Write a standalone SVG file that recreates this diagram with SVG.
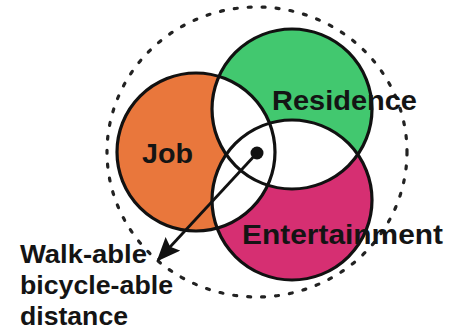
<svg xmlns="http://www.w3.org/2000/svg" width="449" height="331" viewBox="0 0 449 331">
<style>
.ring{fill:none;stroke:#111;stroke-width:3.2}
.lbl{font-family:"Liberation Sans",Arial,sans-serif;font-weight:bold;fill:#141414}
.big{font-size:28px}
.small{font-size:26px}
</style>
<defs>
<clipPath id="cJob"><circle cx="196" cy="152" r="79"/></clipPath>
<clipPath id="cRes"><circle cx="292" cy="109" r="80"/></clipPath>
<marker id="ah" viewBox="0 0 24 20" refX="22" refY="10" markerWidth="24" markerHeight="20" markerUnits="userSpaceOnUse" orient="auto">
<path d="M0,0 L24,10 L0,20 L4,10 z" fill="#111"/>
</marker>
</defs>
<rect width="449" height="331" fill="#fff"/>
<g id="boundary">
<ellipse cx="257" cy="152" rx="150" ry="145" fill="none" stroke="#222" stroke-width="3.2" stroke-dasharray="3 11" stroke-linecap="round"/>
</g>
<g id="fills">
<circle cx="196" cy="152" r="79" fill="#e9773c"/>
<circle cx="292" cy="109" r="80" fill="#42c86f"/>
<circle cx="292" cy="200" r="80" fill="#d62f72"/>
<circle cx="292" cy="109" r="80" fill="#fff" clip-path="url(#cJob)"/>
<circle cx="292" cy="200" r="80" fill="#fff" clip-path="url(#cJob)"/>
<circle cx="292" cy="200" r="80" fill="#fff" clip-path="url(#cRes)"/>
</g>
<g id="job">
<circle class="ring" cx="196" cy="152" r="79"/>
<text class="lbl big" x="142" y="163" textLength="51" lengthAdjust="spacingAndGlyphs">Job</text>
</g>
<g id="residence">
<circle class="ring" cx="292" cy="109" r="80"/>
<text class="lbl big" x="272" y="110" textLength="145" lengthAdjust="spacingAndGlyphs">Residence</text>
</g>
<g id="entertainment">
<circle class="ring" cx="292" cy="200" r="80"/>
<text class="lbl big" x="242" y="244" textLength="201" lengthAdjust="spacingAndGlyphs">Entertainment</text>
</g>
<g id="connectors">
<circle cx="257" cy="153" r="6.5" fill="#111"/>
<line x1="257" y1="153" x2="158" y2="260" stroke="#111" stroke-width="2.8" marker-end="url(#ah)"/>
</g>
<g id="distance-label">
<text class="lbl small" x="20" y="263" textLength="127" lengthAdjust="spacingAndGlyphs">Walk-able</text>
<text class="lbl small" x="20" y="294" textLength="153" lengthAdjust="spacingAndGlyphs">bicycle-able</text>
<text class="lbl small" x="20" y="325" textLength="108" lengthAdjust="spacingAndGlyphs">distance</text>
</g>
</svg>
